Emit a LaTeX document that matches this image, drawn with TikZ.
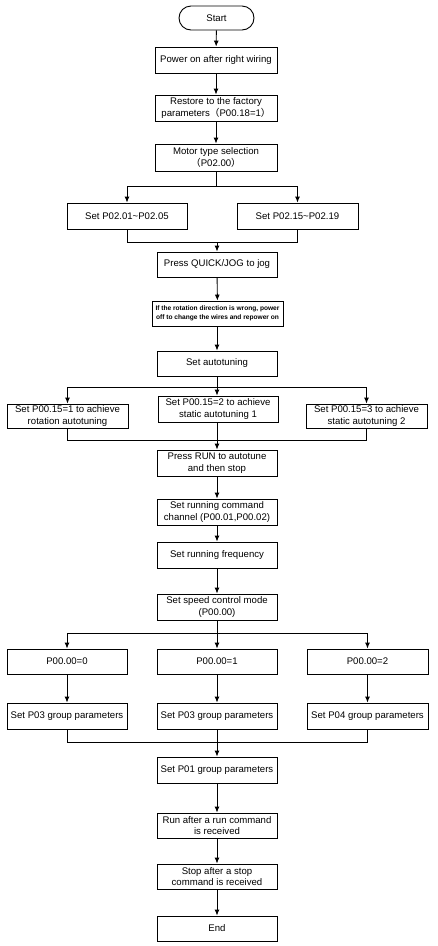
\documentclass[tikz,border=0pt]{standalone}
\usepackage{fontspec}
\setmainfont{Liberation Sans}
\newfontfamily\cjk{Noto Sans CJK SC}
\usetikzlibrary{arrows.meta}
\begin{document}
\begin{tikzpicture}[x=1pt,y=-1pt,
  box/.style={draw,line width=0.9pt,inner sep=0pt,align=center,minimum width=120pt,minimum height=26pt,
    font=\fontsize{9.6}{11.8}\selectfont},
  arr/.style={line width=0.9pt,-{Latex[length=6pt,width=5pt]}},
  ln/.style={line width=0.9pt}]
\useasboundingbox (0,0) rectangle (438,946);
\fill[white] (0,0) rectangle (438,946);
\node[box,minimum width=75pt,minimum height=24pt,rounded corners=12pt] (start) at (216.5,18) {Start};
\node[box,minimum width=122pt] (power) at (216,60) {Power on after right wiring};
\node[box,minimum width=122pt] (restore) at (216,108) {Restore to the factory\\parameters{\cjk （}P00.18=1{\cjk ）}};
\node[box,minimum width=122pt,minimum height=27pt] (motor) at (216,157.5) {Motor type selection\\{\cjk （}P02.00{\cjk ）}};
\node[box] (pa) at (127,216) {Set P02.01\textasciitilde P02.05};
\node[box,minimum width=121pt] (pb) at (297.5,216) {Set P02.15\textasciitilde P02.19};
\node[box,minimum height=25pt] (quick) at (217,264.5) {Press QUICK/JOG to jog};
\node[box,minimum width=131pt,minimum height=25pt,font=\fontsize{6.6}{9}\selectfont\bfseries] (dir) at (217.5,313.5) {If the rotation direction is wrong, power\\off to change the wires and repower on};
\node[box,minimum height=25pt] (auto) at (217,363.5) {Set autotuning};
\node[box,minimum width=121pt,minimum height=24pt] (at1) at (67.5,416) {Set P00.15=1 to achieve\\rotation autotuning};
\node[box] (at2) at (218,409) {Set P00.15=2 to achieve\\static autotuning 1};
\node[box,minimum width=121pt,minimum height=24pt] (at3) at (366.5,416) {Set P00.15=3 to achieve\\static autotuning 2};
\node[box] (run) at (217,463) {Press RUN to autotune\\and then stop};
\node[box] (cmd) at (217,512) {Set running command\\channel (P00.01,P00.02)};
\node[box] (freq) at (217,555) {Set running frequency};
\node[box] (speed) at (217,607) {Set speed control mode\\(P00.00)};
\node[box,minimum height=25pt] (m0) at (67,661.5) {P00.00=0};
\node[box,minimum height=25pt] (m1) at (217,661.5) {P00.00=1};
\node[box,minimum width=121pt,minimum height=25pt] (m2) at (367.5,661.5) {P00.00=2};
\node[box] (g0) at (67,716) {Set P03 group parameters};
\node[box] (g1) at (217,716) {Set P03 group parameters};
\node[box,minimum width=121pt] (g2) at (367.5,716) {Set P04 group parameters};
\node[box] (p01) at (217,770) {Set P01 group parameters};
\node[box,minimum height=25pt] (runa) at (217,825.5) {Run after a run command\\is received};
\node[box,minimum height=25pt] (stopa) at (217,876.5) {Stop after a stop\\command is received};
\node[box,minimum height=25pt] (end) at (217,928.5) {End};
% connectors
\draw[arr] (start) -- (power);
\draw[arr] (power) -- (restore);
\draw[arr] (restore) -- (motor);
\coordinate (s1) at (216,186);
\draw[ln] (motor.south) -- (s1);
\draw[arr] (s1) -| (pa.north);
\draw[arr] (s1) -| (pb.north);
\coordinate (j1) at (217,242);
\draw[ln] (pa.south) |- (j1);
\draw[ln] (pb.south) |- (j1);
\draw[arr] (j1) -- (quick.north);
\draw[arr] (quick) -- (dir);
\draw[arr] (dir.south -| auto.north) -- (auto.north);
\coordinate (s2) at (217,387);
\draw[ln] (auto.south) -- (s2);
\draw[arr] (s2) -| (at1.north);
\draw[arr] (s2) -| (at3.north);
\draw[arr] (s2) -- (s2 |- at2.north);
\coordinate (j2) at (217,440);
\draw[ln] (at1.south) |- (j2);
\draw[ln] (at3.south) |- (j2);
\draw[ln] (at2.south -| j2) -- (j2);
\draw[arr] (j2) -- (run.north);
\draw[arr] (run) -- (cmd);
\draw[arr] (cmd) -- (freq);
\draw[arr] (freq) -- (speed);
\coordinate (s3) at (217,633);
\draw[ln] (speed.south) -- (s3);
\draw[arr] (s3) -| (m0.north);
\draw[arr] (s3) -| (m2.north);
\draw[arr] (s3) -- (m1.north);
\draw[arr] (m0) -- (g0);
\draw[arr] (m1) -- (g1);
\draw[arr] (m2) -- (g2);
\coordinate (j3) at (217,742);
\draw[ln] (g0.south) |- (j3);
\draw[ln] (g2.south) |- (j3);
\draw[ln] (g1.south) -- (j3);
\draw[arr] (j3) -- (p01.north);
\draw[arr] (p01) -- (runa);
\draw[arr] (runa) -- (stopa);
\draw[arr] (stopa) -- (end);
\end{tikzpicture}
\end{document}
